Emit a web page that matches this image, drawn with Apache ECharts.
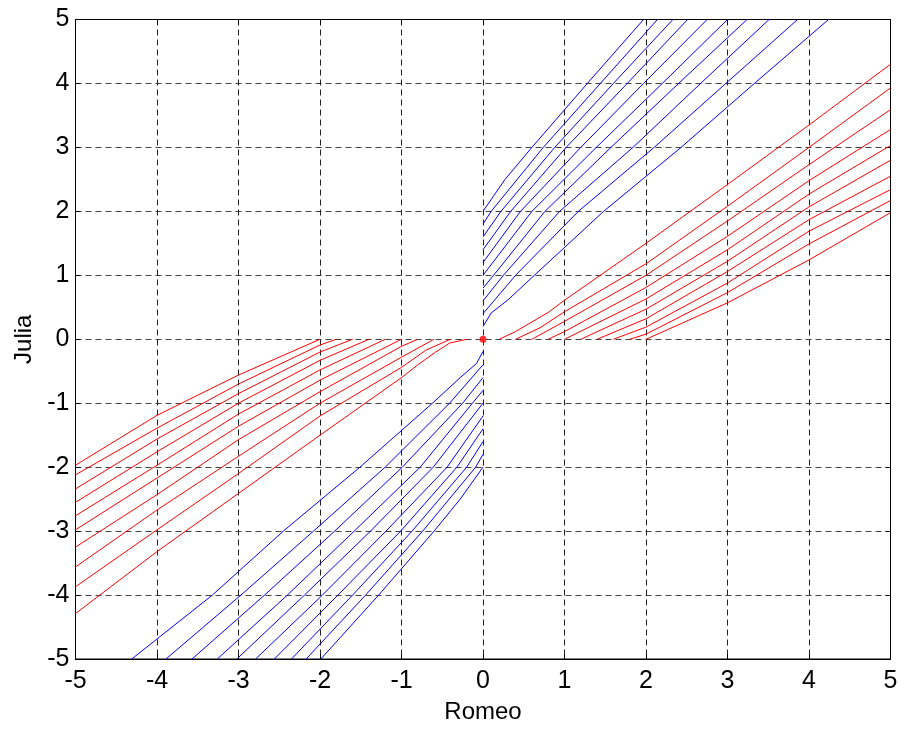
<!DOCTYPE html>
<html>
<head>
<meta charset="utf-8">
<script src="https://cdn.jsdelivr.net/npm/echarts@6/dist/echarts.min.js"></script>
<style>
  html, body { margin: 0; padding: 0; background: #fff; }
  #chart { width: 907px; height: 729px; }
</style>
</head>
<body>
<div id="chart"></div>
<script>
// axis setup
var xTicks = [-5, -4, -3, -2, -1, 0, 1, 2, 3, 4, 5];
var yTicks = [-5, -4, -3, -2, -1, 0, 1, 2, 3, 4, 5];

// blue trajectories, upper right (start on x = 0)
var blueQ1 = [
    [[0, 2.0], [0.27, 2.5], [0.60, 3], [1.28, 4], [1.97, 5]],
    [[0, 1.8], [0.10, 2], [0.74, 3], [1.44, 4], [2.14, 5]],
    [[0, 1.6], [0.22, 2], [0.88, 3], [1.60, 4], [2.33, 5]],
    [[0, 1.4], [0.34, 2], [1.02, 3], [1.77, 4], [2.51, 5]],
    [[0, 1.2], [0.46, 2], [1.20, 3], [1.97, 4], [2.75, 5]],
    [[0, 1.0], [0.60, 2], [1.39, 3], [2.20, 4], [3.00, 5]],
    [[0, 0.8], [0.13, 1], [0.76, 2], [1.57, 3], [2.40, 4], [3.24, 5]],
    [[0, 0.6], [0.25, 1], [0.94, 2], [1.84, 3], [2.67, 4], [3.51, 5]],
    [[0, 0.4], [0.40, 1], [1.17, 2], [2.10, 3], [2.98, 4], [3.86, 5]],
    [[0, 0.2], [0.10, 0.41], [0.31, 0.62], [0.63, 1], [1.48, 2], [2.43, 3], [3.33, 4], [4.24, 5]]
];

// blue trajectories, lower left
var blueQ3 = [
    [[0, -2.0], [-0.28, -2.5], [-0.60, -3], [-1.28, -4], [-1.99, -5]],
    [[0, -1.8], [-0.09, -2], [-0.74, -3], [-1.44, -4], [-2.17, -5]],
    [[0, -1.6], [-0.20, -2], [-0.87, -3], [-1.60, -4], [-2.35, -5]],
    [[0, -1.4], [-0.32, -2], [-1.01, -3], [-1.78, -4], [-2.56, -5]],
    [[0, -1.2], [-0.44, -2], [-1.19, -3], [-1.97, -4], [-2.79, -5]],
    [[0, -1.0], [-0.61, -2], [-1.38, -3], [-2.19, -4], [-3.02, -5]],
    [[0, -0.8], [-0.13, -1], [-0.77, -2], [-1.58, -3], [-2.40, -4], [-3.26, -5]],
    [[0, -0.6], [-0.25, -1], [-0.99, -2], [-1.82, -3], [-2.68, -4], [-3.57, -5]],
    [[0, -0.4], [-0.41, -1], [-1.20, -2], [-2.08, -3], [-2.97, -4], [-3.89, -5]],
    [[0, -0.19], [-0.08, -0.38], [-0.28, -0.6], [-0.62, -1], [-1.51, -2], [-2.45, -3], [-3.32, -4], [-4.31, -5]]
];

// red trajectories, upper right (start on y = 0)
var redQ1 = [
    [[0.2, 0], [0.4, 0.12], [0.6, 0.27], [0.8, 0.42], [1, 0.61], [2, 1.50], [3, 2.42], [4, 3.35], [5, 4.30]],
    [[0.4, 0], [0.7, 0.18], [1, 0.43], [2, 1.18], [3, 2.08], [4, 3.00], [5, 3.93]],
    [[0.6, 0], [1, 0.28], [2, 1.00], [3, 1.85], [4, 2.73], [5, 3.59]],
    [[0.8, 0], [1, 0.12], [2, 0.81], [3, 1.61], [4, 2.48], [5, 3.28]],
    [[1.0, 0], [2, 0.63], [3, 1.40], [4, 2.27], [5, 3.03]],
    [[1.2, 0], [2, 0.47], [3, 1.22], [4, 2.07], [5, 2.80]],
    [[1.4, 0], [2, 0.32], [3, 1.06], [4, 1.87], [5, 2.55]],
    [[1.6, 0], [2, 0.19], [3, 0.88], [4, 1.69], [5, 2.34]],
    [[1.8, 0], [2, 0.08], [3, 0.73], [4, 1.49], [5, 2.17]],
    [[2.0, 0], [3, 0.57], [4, 1.24], [5, 1.98]]
];

// red trajectories, lower left
var redQ3 = [
    [[-0.2, 0], [-0.41, -0.06], [-0.58, -0.2], [-0.8, -0.4], [-1, -0.6], [-2, -1.50], [-3, -2.41], [-4, -3.32], [-5, -4.29]],
    [[-0.4, 0], [-0.7, -0.17], [-1, -0.44], [-2, -1.20], [-3, -2.10], [-4, -2.98], [-5, -3.87]],
    [[-0.6, 0], [-1, -0.28], [-2, -1.00], [-3, -1.83], [-4, -2.67], [-5, -3.56]],
    [[-0.8, 0], [-1, -0.11], [-2, -0.82], [-3, -1.57], [-4, -2.43], [-5, -3.25]],
    [[-1.0, 0], [-2, -0.64], [-3, -1.36], [-4, -2.17], [-5, -2.98]],
    [[-1.2, 0], [-2, -0.48], [-3, -1.17], [-4, -1.97], [-5, -2.76]],
    [[-1.4, 0], [-2, -0.33], [-3, -1.00], [-4, -1.76], [-5, -2.55]],
    [[-1.6, 0], [-2, -0.20], [-3, -0.85], [-4, -1.56], [-5, -2.34]],
    [[-1.8, 0], [-2, -0.09], [-3, -0.70], [-4, -1.39], [-5, -2.12]],
    [[-2.0, 0], [-3, -0.56], [-4, -1.19], [-5, -1.97]]
];

// equilibrium point
var origin = [[0, 0]];

var fontName = 'Liberation Sans, Arial, sans-serif';

function curveSeries(list, color) {
    return list.map(function (pts) {
        return {
            type: 'line',
            data: pts,
            showSymbol: false,
            symbol: 'none',
            smooth: false,
            clip: true,
            silent: true,
            lineStyle: {color: color, width: 1},
            z: 3
        };
    });
}

var series = []
    .concat(curveSeries(blueQ1, '#0000ff'))
    .concat(curveSeries(blueQ3, '#0000ff'))
    .concat(curveSeries(redQ1, '#ff0000'))
    .concat(curveSeries(redQ3, '#ff0000'));

series.push({
    type: 'scatter',
    data: origin,
    symbol: 'circle',
    symbolSize: 7,
    itemStyle: {color: '#ff0000'},
    z: 5
});

var dom = document.getElementById('chart');
var myChart = echarts.init(dom, null, {renderer: 'canvas'});

var option = {
    backgroundColor: '#fff',
    animation: false,
    grid: {
        left: 75.5, right: 16.5, top: 19.5, bottom: 67.3,
        show: true, borderColor: '#000', borderWidth: 1
    },
    xAxis: [{
        type: 'value',
        min: xTicks[0], max: xTicks[xTicks.length - 1], interval: 1,
        name: 'Romeo', nameLocation: 'middle', nameGap: 41,
        nameTextStyle: {fontFamily: fontName, fontSize: 24, color: '#000'},
        axisLine: {show: true, onZero: false, lineStyle: {color: '#000', width: 1}},
        axisTick: {show: true, inside: true, length: 5, lineStyle: {color: '#000'}},
        axisLabel: {fontFamily: fontName, fontSize: 25, color: '#000', margin: 10},
        splitLine: {show: true, lineStyle: {color: '#222', width: 1, type: [6, 4]}}
    }, {
        type: 'value', position: 'top',
        min: xTicks[0], max: xTicks[xTicks.length - 1], interval: 1,
        axisLine: {show: true, onZero: false, lineStyle: {color: '#000'}},
        axisTick: {show: true, inside: true, length: 5, lineStyle: {color: '#000'}},
        axisLabel: {show: false},
        splitLine: {show: false}
    }],
    yAxis: [{
        type: 'value',
        min: yTicks[0], max: yTicks[yTicks.length - 1], interval: 1,
        name: 'Julia', nameLocation: 'middle', nameGap: 39, nameRotate: 90,
        nameTextStyle: {fontFamily: fontName, fontSize: 24, color: '#000'},
        axisLine: {show: true, onZero: false, lineStyle: {color: '#000', width: 1}},
        axisTick: {show: true, inside: true, length: 5, lineStyle: {color: '#000'}},
        axisLabel: {fontFamily: fontName, fontSize: 25, color: '#000', margin: 6},
        splitLine: {show: true, lineStyle: {color: '#444', width: 1, type: [6, 4]}}
    }, {
        type: 'value', position: 'right',
        min: yTicks[0], max: yTicks[yTicks.length - 1], interval: 1,
        axisLine: {show: true, onZero: false, lineStyle: {color: '#000'}},
        axisTick: {show: true, inside: true, length: 5, lineStyle: {color: '#000'}},
        axisLabel: {show: false},
        splitLine: {show: false}
    }],
    series: series
};
myChart.setOption(option, true);
</script>
</body>
</html>
